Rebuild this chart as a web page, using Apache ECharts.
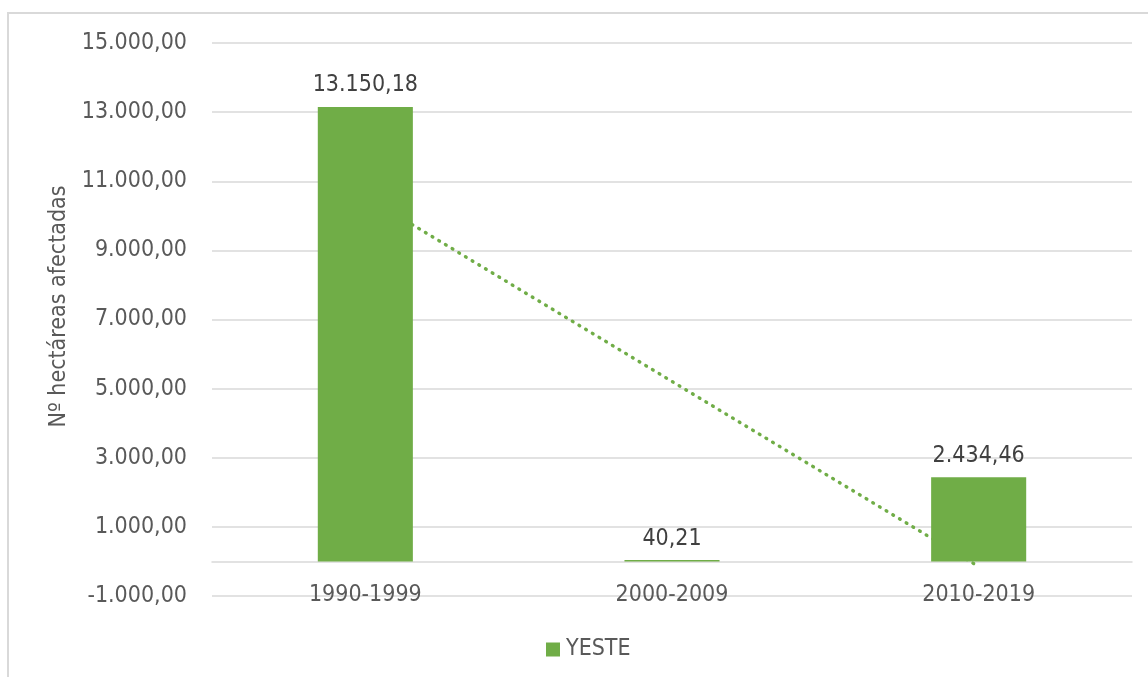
<!DOCTYPE html>
<html>
<head>
<meta charset="utf-8">
<title>YESTE - hectáreas afectadas</title>
<script src="https://cdn.jsdelivr.net/npm/echarts@6/dist/echarts.min.js"></script>
<style>
  html, body { margin: 0; padding: 0; background: #ffffff; }
  #chart { width: 1148px; height: 677px; }
</style>
</head>
<body>
<div id="chart"></div>
<script>
// Decades and burned area (ha) for Yeste
const categories = ['1990-1999', '2000-2009', '2010-2019'];
const seriesName = 'YESTE';
const hectares = [13150.18, 40.21, 2434.46];
// Linear trendline values at each decade
const trendline = [10566.14, 5208.28, -149.58];
// Value axis range
const yMin = -1000;
const yMax = 15000;
const yStep = 2000;

const FONT = "'DejaVu Sans Condensed', 'Noto Sans', sans-serif";
const GREEN = '#70AD47';

// Spanish number style: 13.150,18
function fmtEs(v) {
  const neg = v < 0;
  const fixed = Math.abs(v).toFixed(2);
  const parts = fixed.split('.');
  const intPart = parts[0].replace(/\B(?=(\d{3})+(?!\d))/g, '.');
  return (neg ? '-' : '') + intPart + ',' + parts[1];
}

const chart = echarts.init(document.getElementById('chart'), null, { renderer: 'canvas' });

chart.setOption({
  animation: false,
  backgroundColor: '#ffffff',
  textStyle: { fontFamily: FONT },
  graphic: [{
    type: 'rect',
    silent: true,
    z: -10,
    shape: { x: 8, y: 13, width: 1300, height: 800 },
    style: { fill: 'none', stroke: '#d9d9d9', lineWidth: 2 }
  }],
  grid: { left: 212, right: 16, top: 43, bottom: 81 },
  legend: {
    data: [seriesName],
    left: 541,
    top: 633,
    icon: 'rect',
    itemWidth: 14,
    itemHeight: 14,
    itemGap: 6,
    textStyle: { fontFamily: FONT, fontSize: 23, color: '#595959', padding: [0, 0, 0, 1] }
  },
  xAxis: {
    type: 'category',
    data: categories,
    axisLine: { onZero: true, lineStyle: { color: '#d9d9d9', width: 1.5 } },
    axisTick: { show: false },
    axisLabel: { margin: -12, fontFamily: FONT, fontSize: 23, color: '#595959' },
    splitLine: { show: false }
  },
  yAxis: {
    type: 'value',
    min: yMin,
    max: yMax,
    interval: yStep,
    name: 'Nº hectáreas afectadas',
    nameLocation: 'middle',
    nameGap: 140,
    nameTextStyle: { fontFamily: FONT, fontSize: 23, color: '#595959', padding: [0, 0, 0, 26] },
    axisLine: { show: false },
    axisTick: { show: false },
    axisLabel: {
      margin: 25,
      fontFamily: FONT,
      fontSize: 23,
      color: '#595959',
      formatter: function (v) { return fmtEs(v); }
    },
    splitLine: { lineStyle: { color: '#d9d9d9', width: 1.5 } }
  },
  series: [
    {
      name: 'Lineal (' + seriesName + ')',
      type: 'line',
      data: trendline,
      z: 1,
      symbol: 'none',
      silent: true,
      lineStyle: { color: GREEN, width: 3.4, type: [0.8, 7], cap: 'round' }
    },
    {
      name: seriesName,
      type: 'bar',
      data: hectares,
      z: 3,
      barWidth: '31%',
      itemStyle: { color: GREEN },
      label: {
        show: true,
        position: 'top',
        distance: 10,
        fontFamily: FONT,
        fontSize: 23,
        color: '#404040',
        formatter: function (p) { return fmtEs(p.value); }
      }
    }
  ]
});
</script>
</body>
</html>
